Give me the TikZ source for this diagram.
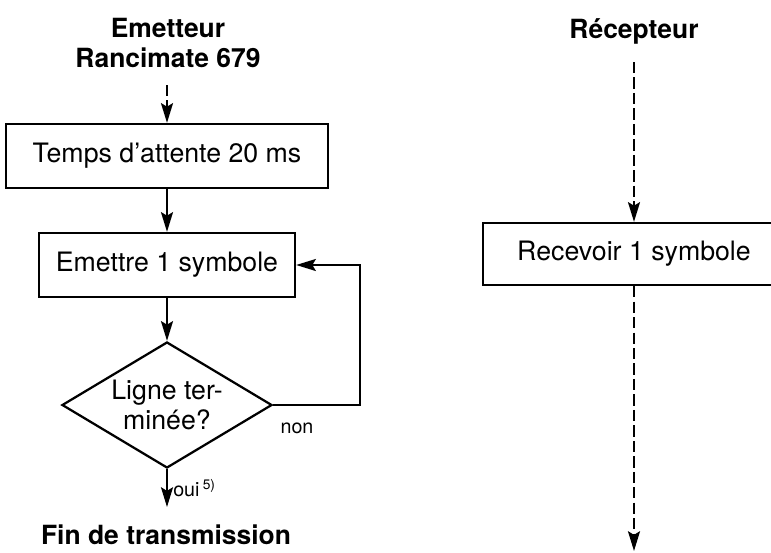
\documentclass[tikz,border=0pt]{standalone}
\usepackage{fontspec}
\setmainfont{TeX Gyre Heros}
\usetikzlibrary{arrows.meta,shapes.geometric}

\begin{document}
\begin{tikzpicture}[x=0.025cm, y=-0.025cm, >={Stealth[length=14pt,width=8.5pt,inset=2.5pt]},
    box/.style={draw, rectangle, line width=1.6pt, inner sep=0pt, font=\fontsize{19}{21}\selectfont},
    titel/.style={align=center, font=\bfseries\fontsize{18.8}{21.5}\selectfont},
    klein/.style={inner sep=0pt, font=\fontsize{14}{16}\selectfont},
    flow/.style={->, line width=1.6pt},
    dflow/.style={->, line width=1.6pt, dash pattern=on 8pt off 3pt}]
            \useasboundingbox (0,0) rectangle (771,553);

            % emetteur
            \node [titel] (emetteur) at (168,43) {Emetteur\\Rancimate 679};
            \coordinate (emstart) at (167,85);
            \node [box, minimum width=8.05cm, minimum height=1.6cm] (temps) at (167,156) {Temps d'attente 20 ms};
            \node [box, minimum width=6.4cm, minimum height=1.6cm] (emettre) at (167,265) {Emettre 1 symbole};
            \node [draw, diamond, aspect=1.66, line width=1.6pt, inner sep=0pt, minimum width=5.25cm, minimum height=3.15cm,
                   align=center, font=\fontsize{19}{21}\selectfont] (ligne) at (167,405) {Ligne ter-\\minée?};
            \coordinate (finend) at (167,507);
            \node [titel] (fin) at (166,535) {Fin de transmission};
            \node [klein] (non) at (297,428) {non};
            \node [klein, anchor=west] (oui) at (173,488) {oui\,\textsuperscript{5)}};

            % recepteur
            \node [titel] (recepteur) at (634,31) {Récepteur};
            \coordinate (recstart) at (634,62);
            \node [box, minimum width=7.55cm, minimum height=1.55cm] (recevoir) at (634,254) {Recevoir 1 symbole};
            \coordinate (recend) at (634,551);

            \draw[dflow] (emstart) -- (temps);
            \draw[flow] (temps) -- (emettre);
            \draw[flow] (emettre) -- (ligne);
            \draw[flow] (ligne.east) -- ++(87,0) |- (emettre.east);
            \draw[flow] (ligne) -- (finend);
            \draw[dflow] (recstart) -- (recevoir);
            \draw[dflow] (recevoir) -- (recend);
\end{tikzpicture}
\end{document}
